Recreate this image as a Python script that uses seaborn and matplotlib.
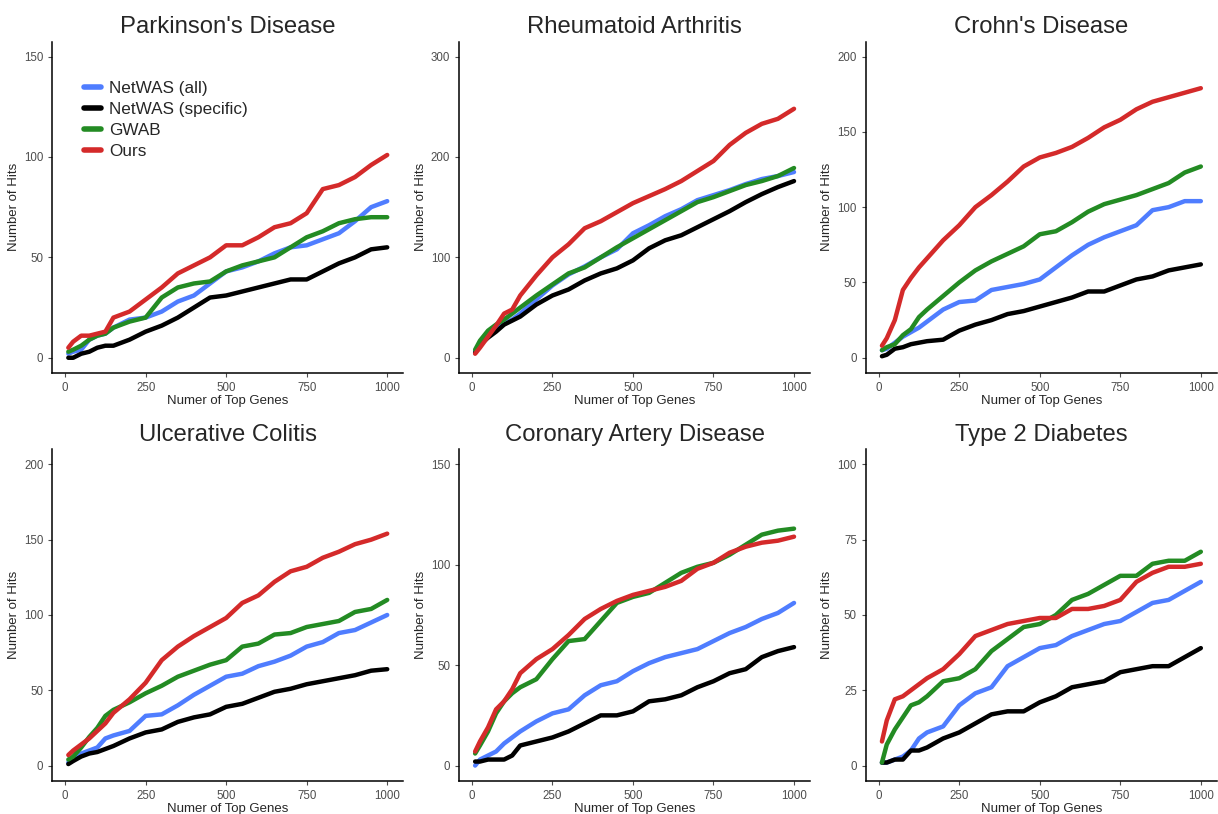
import seaborn as sns
import matplotlib.pyplot as plt
import pandas as pd

genes = [10, 25, 50, 75, 100, 125, 150, 200, 250, 300, 350, 400, 450,
         500, 550, 600, 650, 700, 750, 800, 850, 900, 950, 1000]

methods = ["NetWAS (all)", "NetWAS (specific)", "GWAB", "Ours"]
colors = ["#4F7DFF", "#000000", "#238B23", "#D42A2A"]

diseases = ["Parkinson's Disease", "Rheumatoid Arthritis", "Crohn's Disease",
            "Ulcerative Colitis", "Coronary Artery Disease", "Type 2 Diabetes"]
ymax = [150, 300, 200, 200, 150, 100]
ystep = [50, 100, 50, 50, 50, 25]

# hits, order: NetWAS (all), NetWAS (specific), GWAB, Ours
pd_all = [2, 3, 4, 9, 11, 12, 15, 19, 20, 23, 28, 31, 37, 43, 45, 48, 52, 55, 56, 59, 62, 68, 75, 78]
pd_spec = [0, 0, 2, 3, 5, 6, 6, 9, 13, 16, 20, 25, 30, 31, 33, 35, 37, 39, 39, 43, 47, 50, 54, 55]
pd_gwab = [3, 4, 6, 9, 11, 12, 15, 18, 20, 30, 35, 37, 38, 43, 46, 48, 50, 55, 60, 63, 67, 69, 70, 70]
pd_ours = [5, 8, 11, 11, 12, 13, 20, 23, 29, 35, 42, 46, 50, 56, 56, 60, 65, 67, 72, 84, 86, 90, 96, 101]

ra_all = [7, 14, 22, 28, 34, 38, 44, 58, 72, 83, 91, 100, 108, 124, 132, 141, 148, 157, 162, 167, 173, 178, 181, 185]
ra_spec = [5, 13, 20, 26, 33, 37, 41, 53, 62, 68, 77, 84, 89, 97, 109, 117, 122, 130, 138, 146, 155, 163, 170, 176]
ra_gwab = [8, 17, 27, 33, 38, 44, 50, 62, 73, 84, 90, 100, 110, 119, 128, 137, 146, 155, 160, 166, 172, 176, 181, 189]
ra_ours = [4, 10, 21, 32, 44, 48, 62, 82, 100, 113, 129, 136, 145, 154, 161, 168, 176, 186, 196, 212, 224, 233, 238, 248]

cd_all = [5, 6, 10, 14, 17, 20, 24, 32, 37, 38, 45, 47, 49, 52, 60, 68, 75, 80, 84, 88, 98, 100, 104, 104]
cd_spec = [1, 2, 6, 7, 9, 10, 11, 12, 18, 22, 25, 29, 31, 34, 37, 40, 44, 44, 48, 52, 54, 58, 60, 62]
cd_gwab = [5, 7, 9, 15, 19, 27, 32, 41, 50, 58, 64, 69, 74, 82, 84, 90, 97, 102, 105, 108, 112, 116, 123, 127]
cd_ours = [8, 13, 25, 45, 53, 60, 66, 78, 88, 100, 108, 117, 127, 133, 136, 140, 146, 153, 158, 165, 170, 173, 176, 179]

uc_all = [2, 5, 8, 10, 12, 18, 20, 23, 33, 34, 40, 47, 53, 59, 61, 66, 69, 73, 79, 82, 88, 90, 95, 100]
uc_spec = [1, 3, 6, 8, 9, 11, 13, 18, 22, 24, 29, 32, 34, 39, 41, 45, 49, 51, 54, 56, 58, 60, 63, 64]
uc_gwab = [4, 6, 12, 19, 25, 33, 37, 42, 48, 53, 59, 63, 67, 70, 79, 81, 87, 88, 92, 94, 96, 102, 104, 110]
uc_ours = [7, 10, 14, 18, 23, 28, 35, 44, 55, 70, 79, 86, 92, 98, 108, 113, 122, 129, 132, 138, 142, 147, 150, 154]

cad_all = [0, 3, 5, 7, 11, 14, 17, 22, 26, 28, 35, 40, 42, 47, 51, 54, 56, 58, 62, 66, 69, 73, 76, 81]
cad_spec = [2, 2, 3, 3, 3, 5, 10, 12, 14, 17, 21, 25, 25, 27, 32, 33, 35, 39, 42, 46, 48, 54, 57, 59]
cad_gwab = [6, 10, 17, 26, 32, 36, 39, 43, 53, 62, 63, 72, 81, 84, 86, 91, 96, 99, 101, 105, 110, 115, 117, 118]
cad_ours = [7, 12, 19, 28, 32, 38, 46, 53, 58, 65, 73, 78, 82, 85, 87, 89, 92, 98, 101, 106, 109, 111, 112, 114]

t2d_all = [1, 1, 2, 3, 5, 9, 11, 13, 20, 24, 26, 33, 36, 39, 40, 43, 45, 47, 48, 51, 54, 55, 58, 61]
t2d_spec = [1, 1, 2, 2, 5, 5, 6, 9, 11, 14, 17, 18, 18, 21, 23, 26, 27, 28, 31, 32, 33, 33, 36, 39]
t2d_gwab = [1, 7, 12, 16, 20, 21, 23, 28, 29, 32, 38, 42, 46, 47, 50, 55, 57, 60, 63, 63, 67, 68, 68, 71]
t2d_ours = [8, 15, 22, 23, 25, 27, 29, 32, 37, 43, 45, 47, 48, 49, 49, 52, 52, 53, 55, 61, 64, 66, 66, 67]

hits = [
    [pd_all, pd_spec, pd_gwab, pd_ours],
    [ra_all, ra_spec, ra_gwab, ra_ours],
    [cd_all, cd_spec, cd_gwab, cd_ours],
    [uc_all, uc_spec, uc_gwab, uc_ours],
    [cad_all, cad_spec, cad_gwab, cad_ours],
    [t2d_all, t2d_spec, t2d_gwab, t2d_ours],
]

rows = []
for d, series in zip(diseases, hits):
    for m, vals in zip(methods, series):
        for g, v in zip(genes, vals):
            rows.append({"disease": d, "method": m, "genes": g, "hits": v})
df = pd.DataFrame(rows)

sns.set_style("ticks")
plt.rcParams["font.family"] = ["Liberation Sans", "DejaVu Sans"]

fig = plt.figure(figsize=(12.18, 8.14), dpi=100)
lefts = [0.043, 0.377, 0.711]
bottoms = [0.542, 0.041]
w, h = 0.288, 0.407

for i, d in enumerate(diseases):
    ax = fig.add_axes([lefts[i % 3], bottoms[i // 3], w, h])
    sub = df[df["disease"] == d]
    sns.lineplot(data=sub, x="genes", y="hits", hue="method", hue_order=methods,
                 palette=colors, linewidth=3.2, ax=ax, legend=(i == 0))
    pad = ymax[i] * 0.05
    ax.set_ylim(-pad, ymax[i] + pad)
    ax.set_xlim(10 - 49.5, 1000 + 49.5)
    ax.set_xticks([0, 250, 500, 750, 1000])
    ax.set_yticks(range(0, ymax[i] + 1, ystep[i]))
    ax.set_title(d, fontsize=17.2, pad=6)
    ax.set_xlabel("Numer of Top Genes", fontsize=9.5, labelpad=1)
    ax.set_ylabel("Number of Hits", fontsize=9.5, labelpad=3)
    ax.tick_params(labelsize=8.3, colors="#4D4D4D", length=3, width=0.8)
    sns.despine(ax=ax)
    for s in ["left", "bottom"]:
        ax.spines[s].set_linewidth(1.1)
        ax.spines[s].set_color("black")
    if i == 0:
        leg = ax.legend(loc="upper left", bbox_to_anchor=(0.07, 0.9), frameon=False,
                        fontsize=12.3, handlelength=1.0, handletextpad=0.5,
                        labelspacing=0.35, borderaxespad=0)
        for line in leg.get_lines():
            line.set_linewidth(4)

fig.savefig("out.png", dpi=100)
